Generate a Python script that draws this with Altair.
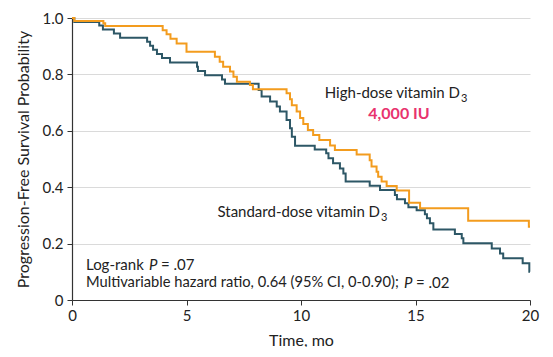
import altair as alt
import pandas as pd

# Standard-dose vitamin D3 (Kaplan-Meier step points: time in months, survival)
std_t = [0, 0.1, 1.19, 1.35, 1.83, 2.1, 3.28, 3.41, 3.54, 3.71, 3.93, 4.28, 5.46, 5.5, 5.81,
         6.55, 6.68, 8.15, 8.28, 8.65, 8.94, 9.08, 9.37, 9.52, 9.6, 9.74, 10.6, 11.1, 11.2,
         11.4, 11.7, 11.85, 11.95, 13.0, 13.45, 14.1, 14.19, 14.54, 14.69, 15.05, 15.41,
         15.5, 15.63, 15.78, 16.72, 17.02, 17.09, 18.33, 18.69, 18.83, 19.68, 19.97, 20.0]
std_s = [1.0, 0.986, 0.973, 0.959, 0.945, 0.930, 0.916, 0.902, 0.887, 0.872, 0.858, 0.842,
         0.827, 0.812, 0.797, 0.782, 0.767, 0.745, 0.722, 0.704, 0.686, 0.668, 0.638, 0.609,
         0.579, 0.547, 0.534, 0.520, 0.503, 0.485, 0.466, 0.449, 0.420, 0.405, 0.390, 0.372,
         0.357, 0.343, 0.329, 0.318, 0.304, 0.290, 0.272, 0.250, 0.234, 0.219, 0.201, 0.183,
         0.165, 0.148, 0.130, 0.100, 0.100]

# High-dose vitamin D3
high_t = [0, 0.1, 1.37, 1.45, 3.96, 4.13, 4.3, 4.57, 5.0, 6.24, 6.45, 6.6, 6.9, 7.05, 7.2,
          7.77, 7.9, 9.37, 9.52, 9.6, 9.81, 9.96, 10.1, 10.3, 10.53, 10.8, 11.27, 11.48,
          12.43, 13.0, 13.08, 13.3, 13.37, 13.52, 13.74, 14.18, 14.72, 15.2, 17.3, 19.95, 20.0]
high_s = [1.0, 0.989, 0.981, 0.972, 0.957, 0.942, 0.926, 0.910, 0.880, 0.863, 0.845, 0.827,
          0.810, 0.792, 0.774, 0.762, 0.747, 0.733, 0.712, 0.691, 0.668, 0.645, 0.624, 0.603,
          0.585, 0.567, 0.548, 0.532, 0.516, 0.496, 0.473, 0.455, 0.437, 0.420, 0.404, 0.388,
          0.345, 0.325, 0.281, 0.260, 0.260]

groups = ["Standard", "High"]
colors = ["#2D5766", "#F39C1E"]

df = pd.concat([
    pd.DataFrame({"t": std_t, "s": std_s, "g": "Standard"}),
    pd.DataFrame({"t": high_t, "s": high_s, "g": "High"}),
])

FONT = "Lato"

lines = alt.Chart(df).mark_line(interpolate="step-after", strokeWidth=2).encode(
    x=alt.X("t:Q", scale=alt.Scale(domain=[0, 20], nice=False),
            axis=alt.Axis(values=[0, 5, 10, 15, 20], title="Time, mo", grid=False,
                          tickSize=5, labelPadding=3, titlePadding=9, labelFlush=False)),
    y=alt.Y("s:Q", scale=alt.Scale(domain=[0, 1], nice=False),
            axis=alt.Axis(values=[0, 0.2, 0.4, 0.6, 0.8, 1.0],
                          labelExpr="datum.value == 0 ? '0' : format(datum.value, '.1f')",
                          title="Progression-Free Survival Probability", grid=True,
                          tickSize=5, labelPadding=4, titlePadding=11, labelFlush=False)),
    color=alt.Color("g:N", scale=alt.Scale(domain=groups, range=colors), legend=None),
    detail="g:N",
)

def txt(s, x, y, size=15, color="#222222", align="left", weight="normal", style="normal"):
    return alt.Chart(pd.DataFrame({"a": [0]})).mark_text(
        text=s, align=align, baseline="middle", fontSize=size, font=FONT,
        color=color, fontWeight=weight, fontStyle=style
    ).encode(x=alt.value(x), y=alt.value(y))

# plot origin at page (72, 18)
ann = [
    txt("High-dose vitamin D", 460 - 72, 93 - 18, align="right"),
    txt("3", 461 - 72, 99 - 18, size=11),
    txt("4,000 IU", 399 - 72, 114 - 18, size=16, color="#E8336E", align="center", weight="bold"),
    txt("Standard-dose vitamin D", 380 - 72, 212 - 18, align="right"),
    txt("3", 381 - 72, 218 - 18, size=11),
    txt("Log-rank", 86 - 72, 265 - 18),
    txt("P", 149 - 72, 265 - 18, style="italic"),
    txt("= .07", 161 - 72, 265 - 18),
    txt("Multivariable hazard ratio, 0.64 (95% CI, 0-0.90);", 86 - 72, 283 - 18, size=14.7),
    txt("P", 404 - 72, 283 - 18, style="italic"),
    txt("= .02", 416 - 72, 283 - 18),
]

chart = alt.layer(lines, *ann).properties(
    width=458, height=282,
    autosize=alt.AutoSizeParams(type="none"),
    padding={"left": 64, "top": 10, "right": 15, "bottom": 47},
).configure_axis(
    labelFont=FONT, titleFont=FONT, labelFontSize=15, titleFontSize=16,
    labelColor="#222222", titleColor="#222222", titleFontWeight="normal",
    domainColor="#333333", tickColor="#333333", gridColor="#DADADA", domainWidth=1.2,
).configure_view(stroke=None)

chart.save("out.html", embed_options={"renderer": "svg", "actions": False})
